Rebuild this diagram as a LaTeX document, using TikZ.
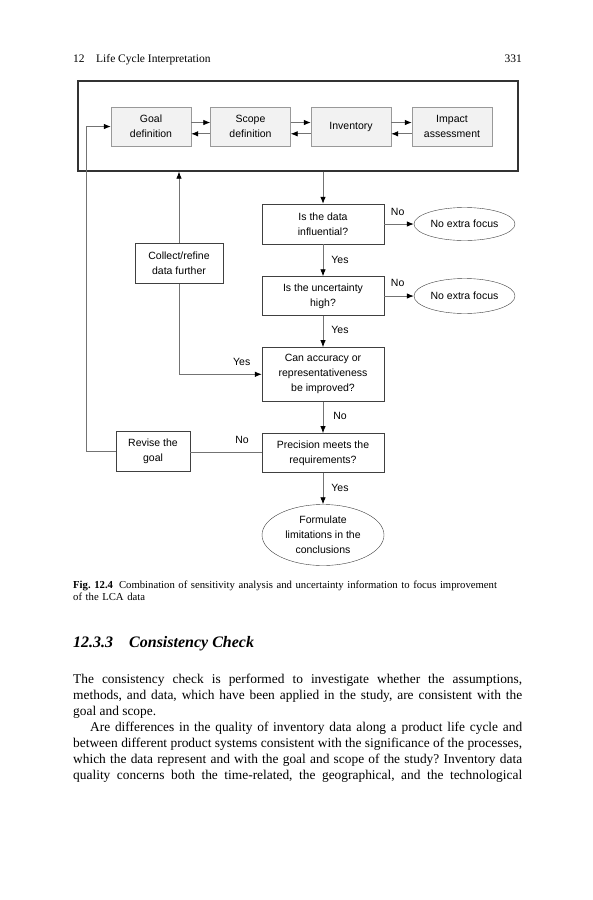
\documentclass[tikz,border=0pt]{standalone}
\usepackage{fontspec}
\setmainfont{Liberation Serif}
\setsansfont{Liberation Sans}
\usetikzlibrary{shapes.geometric}
\usetikzlibrary{arrows.meta}
\tikzset{>={Latex[length=7pt,width=5.5pt,black]}}

\newcommand{\flowfont}{\sffamily\fontsize{10.5}{15}\selectfont}
\newcommand{\bodyfont}{\fontsize{13.4}{16}\selectfont\frenchspacing}

\tikzset{
    topbox/.style={draw=gray!80, fill=gray!10, minimum width=80pt, minimum height=39pt, inner sep=0pt, align=center, font=\flowfont},
    flowbox/.style={draw=black!75, fill=white, minimum width=122pt, minimum height=39pt, inner sep=0pt, align=center, font=\flowfont},
    sidebox/.style={draw=black!75, fill=white, minimum height=40pt, inner sep=0pt, align=center, font=\flowfont},
    endnode/.style={draw=black!75, ellipse, inner sep=0pt, align=center, font=\flowfont},
    lbl/.style={inner sep=0pt, font=\flowfont},
    conn/.style={draw=gray!90!black, line width=0.8pt},
    para/.style={anchor=base west, inner sep=0pt, text width=449pt, align=justify, font=\bodyfont}
}

\begin{document}
\begin{tikzpicture}[x=1pt, y=-1pt]
    \useasboundingbox[fill=white](0, 0)rectangle(593, 900);
    % running head
    \node[anchor=base west, inner sep=0pt, font=\fontsize{11.5}{12}\selectfont] (head) at (73, 62) {12\quad Life Cycle Interpretation};
    \node[anchor=base east, inner sep=0pt, font=\fontsize{11.5}{12}\selectfont] (page) at (522, 62) {331};

    % framed phases
    \node[draw=black!80, line width=1.3pt, minimum width=440pt, minimum height=90pt, inner sep=0pt] (frame) at (298, 126) {};
    \node[topbox] (goal) at (151, 126.5) {Goal\\definition};
    \node[topbox] (scope) at (250.5, 126.5) {Scope\\definition};
    \node[topbox] (inv) at (351, 126.5) {Inventory};
    \node[topbox] (impact) at (452, 126.5) {Impact\\assessment};
    \draw[conn, ->]([yshift=4pt]goal.east)--([yshift=4pt]scope.west);
    \draw[conn, ->]([yshift=-7.3pt]scope.west)--([yshift=-7.3pt]goal.east);
    \draw[conn, ->]([yshift=4pt]scope.east)--([yshift=4pt]inv.west);
    \draw[conn, ->]([yshift=-7.3pt]inv.west)--([yshift=-7.3pt]scope.east);
    \draw[conn, ->]([yshift=4pt]inv.east)--([yshift=4pt]impact.west);
    \draw[conn, ->]([yshift=-7.3pt]impact.west)--([yshift=-7.3pt]inv.east);

    % decision column
    \node[flowbox, minimum height=40pt] (infl) at (323, 224) {Is the data\\influential?};
    \node[flowbox] (unc) at (323, 296) {Is the uncertainty\\high?};
    \node[flowbox, minimum height=54pt] (acc) at (323, 374.3) {Can accuracy or\\representativeness\\be improved?};
    \node[flowbox] (prec) at (323, 452.8) {Precision meets the\\requirements?};
    \node[endnode, minimum width=122pt, minimum height=61pt] (concl) at (323, 535) {Formulate\\limitations in the\\conclusions};
    \node[endnode, minimum width=101pt, minimum height=33pt] (nef1) at (464.5, 224) {No extra focus};
    \node[endnode, minimum width=101pt, minimum height=35pt] (nef2) at (464.5, 296) {No extra focus};
    \node[sidebox, minimum width=88pt] (collect) at (179, 263.3) {Collect/refine\\data further};
    \node[sidebox, minimum width=73.4pt, minimum height=39.3pt] (revise) at (153, 451.3) {Revise the\\goal};

    \draw[conn, ->](frame.south -| infl.north)--(infl.north);
    \draw[conn, ->](infl)--(unc);
    \draw[conn, ->](unc)--(acc);
    \draw[conn, ->](acc)--(prec);
    \draw[conn, ->](prec)--(concl);
    \draw[conn, ->](infl)--(nef1);
    \draw[conn, ->](unc)--(nef2);
    \draw[conn, ->](collect.south)|-(acc.west);
    \draw[conn, ->](collect.north)--(collect.north |- frame.south);
    \draw[conn](prec.west)--(revise.east |- prec.west);
    \draw[conn, ->](revise.west)--++(-29.6, 0)|-(goal.west);

    \node[lbl] (no1) at (397.7, 212) {No};
    \node[lbl] (no2) at (397.7, 283) {No};
    \node[lbl] (yes1) at (340, 260) {Yes};
    \node[lbl] (yes2) at (340, 330) {Yes};
    \node[lbl] (no3) at (340, 416) {No};
    \node[lbl] (yes3) at (340, 487.7) {Yes};
    \node[lbl] (yes4) at (241.7, 362) {Yes};
    \node[lbl] (no4) at (242, 440) {No};

    % caption, heading and text
    \node[anchor=base west, inner sep=0pt, text width=449pt, align=left, font=\fontsize{10.7}{12}\selectfont] (caption) at (73, 588)
        {\textbf{Fig.\ 12.4}\hspace{6pt}Combination of sensitivity analysis and uncertainty information to focus improvement\\of the LCA data};
    \node[anchor=base west, inner sep=0pt, font=\fontsize{16}{18}\selectfont\bfseries\itshape] (sect) at (73, 647) {12.3.3\hspace{16pt}Consistency Check};
    \node[para] (para1) at (73, 683)
        {\spaceskip=.25em plus .3em minus .1em
         The consistency check is performed to investigate whether the assumptions,\linebreak
         methods, and data, which have been applied in the study, are consistent with the\linebreak
         goal and scope.\par};
    \node[para] (para2) at (73, 731)
        {\spaceskip=.25em plus .3em minus .1em \parfillskip=0pt
         \hspace*{17pt}Are differences in the quality of inventory data along a product life cycle and\linebreak
         between different product systems consistent with the significance of the processes,\linebreak
         which the data represent and with the goal and scope of the study? Inventory data\linebreak
         quality concerns both the time-related, the geographical, and the technological\par};
\end{tikzpicture}
\end{document}
